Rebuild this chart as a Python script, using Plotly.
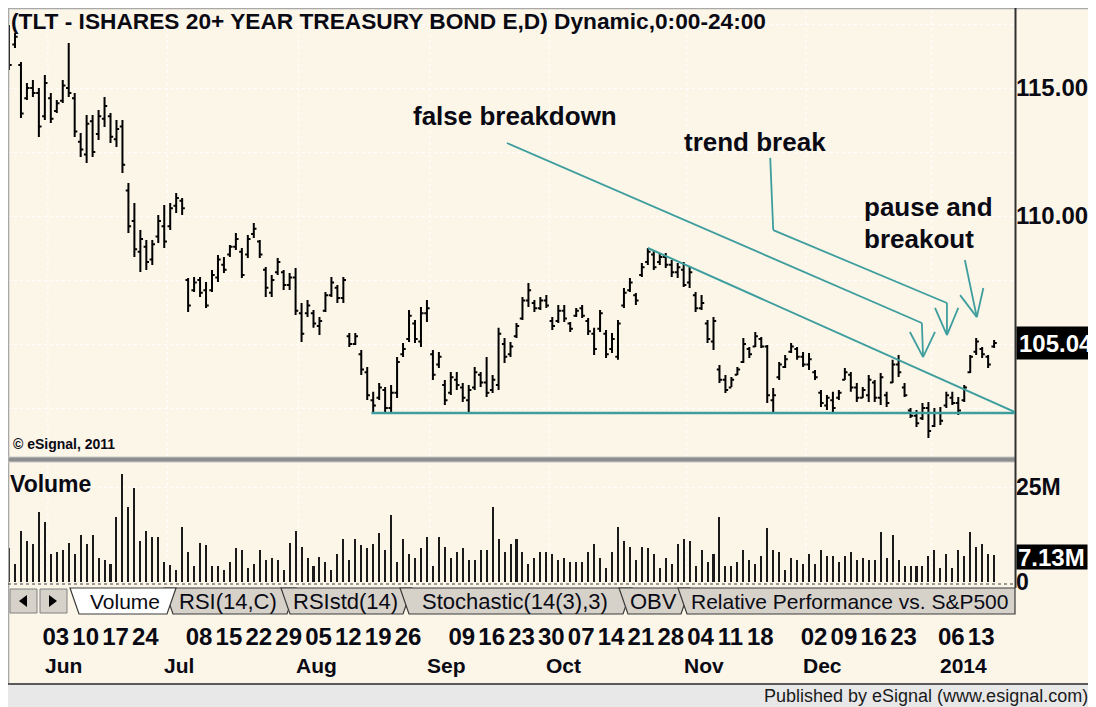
import plotly.graph_objects as go
import pandas as pd

# ---------------- data ----------------
HOLIDAYS = ["2013-05-27", "2013-07-04", "2013-09-02", "2013-11-28", "2013-12-25", "2014-01-01"]
dates = [d.strftime("%Y-%m-%d") for d in
         pd.bdate_range("2013-05-22", "2014-01-16", freq="C", holidays=HOLIDAYS)]

open_ = [117.3, 116.7, 115.9, 114.6, 115.0, 114.8, 113.9, 114.6, 114.1, 114.5,
         115.0, 114.6, 112.9, 112.4, 113.7, 113.2, 113.8, 113.9, 113.0, 113.5,
         111.0, 109.8, 108.6, 108.8, 108.3, 109.2, 109.6, 109.6, 110.4, 110.6,
         107.5, 107.1, 107.5, 107.1, 107.1, 107.6, 108.1, 108.5, 108.8, 108.6,
         108.5, 109.3, 109.0, 107.9, 107.0, 107.8, 107.8, 107.3, 107.6, 106.2,
         106.2, 106.2, 105.7, 106.3, 106.9, 107.2, 106.8, 105.3, 105.0, 104.6,
         103.9, 102.8, 102.9, 103.2, 102.5, 103.1, 104.6, 105.2, 105.8, 105.1,
         106.2, 104.6, 104.2, 103.4, 103.1, 103.6, 103.3, 102.8, 103.3, 103.8,
         103.5, 103.2, 103.4, 105.0, 104.6, 105.3, 106.0, 106.7, 106.6, 106.4,
         106.7, 105.9, 105.9, 106.3, 105.8, 106.1, 106.4, 105.9, 105.4, 105.6,
         105.4, 104.8, 104.5, 106.5, 107.1, 106.9, 107.7, 108.2, 108.5, 108.2,
         108.4, 108.1, 107.8, 107.9, 107.4, 106.9, 106.4, 105.8, 105.1, 104.0,
         103.6, 103.3, 103.8, 104.3, 104.8, 104.9, 105.2, 104.9, 102.8, 103.7,
         104.1, 104.7, 104.8, 104.5, 104.2, 103.9, 103.1, 102.6, 102.8, 102.9,
         103.6, 103.8, 103.3, 102.9, 103.0, 103.5, 102.9, 103.0, 103.5, 104.2,
         103.3, 102.4, 102.2, 102.1, 102.5, 101.8, 102.3, 102.6, 102.9, 102.7,
         102.8, 103.9, 104.7, 104.8, 104.5, 104.9]
high = [117.46, 117.15, 116.02, 115.20, 115.31, 115.00, 115.51, 114.80, 114.53, 115.31,
        116.76, 114.80, 113.24, 113.95, 113.95, 114.14, 114.65, 114.02, 113.75, 113.75,
        111.29, 110.51, 109.45, 109.06, 109.06, 110.04, 110.43, 110.51, 110.90, 110.70,
        107.58, 107.62, 107.62, 107.42, 107.89, 108.48, 108.40, 108.87, 109.34, 108.75,
        109.26, 109.73, 109.06, 108.01, 107.70, 108.36, 107.89, 107.77, 107.97, 106.60,
        106.72, 106.33, 106.05, 107.03, 107.62, 107.30, 107.62, 105.43, 105.43, 104.77,
        104.10, 103.13, 103.48, 103.32, 103.40, 104.49, 105.04, 106.33, 105.94, 106.45,
        106.72, 104.77, 104.69, 103.59, 103.91, 103.91, 103.48, 103.40, 104.10, 103.91,
        104.49, 103.79, 105.63, 105.23, 105.08, 105.82, 106.84, 107.38, 106.72, 106.84,
        106.91, 106.05, 106.52, 106.52, 105.86, 106.41, 106.52, 106.02, 105.63, 106.33,
        105.55, 105.43, 105.94, 107.19, 107.58, 106.99, 108.16, 108.75, 108.67, 108.55,
        108.55, 108.28, 108.16, 108.20, 108.01, 107.03, 106.91, 105.94, 106.05, 104.18,
        103.79, 103.71, 104.10, 105.23, 104.88, 105.47, 105.27, 104.96, 103.28, 104.30,
        104.57, 105.04, 104.88, 104.69, 104.65, 103.98, 103.20, 103.01, 103.13, 103.20,
        104.06, 103.91, 103.48, 103.32, 103.79, 103.59, 103.87, 103.13, 104.38, 104.57,
        103.48, 102.50, 102.42, 102.70, 102.73, 102.50, 102.54, 103.13, 103.13, 102.93,
        103.40, 104.57, 105.23, 104.88, 104.57, 105.16]
low = [115.70, 116.56, 113.83, 114.53, 114.65, 113.09, 113.75, 113.63, 114.02, 114.41,
       114.65, 113.09, 112.30, 112.07, 112.30, 112.97, 113.48, 112.85, 112.70, 111.68,
       109.34, 108.40, 107.81, 107.89, 108.09, 108.95, 108.75, 109.45, 110.12, 110.04,
       106.25, 107.03, 106.84, 106.41, 107.03, 107.42, 107.77, 108.40, 108.67, 107.58,
       108.36, 109.14, 108.36, 106.84, 106.84, 107.70, 107.11, 107.11, 106.13, 105.08,
       106.05, 105.63, 105.35, 106.25, 106.84, 106.60, 106.60, 104.88, 104.96, 103.79,
       102.81, 102.30, 102.81, 102.30, 102.30, 102.89, 104.49, 105.08, 105.04, 104.88,
       105.86, 103.59, 104.06, 102.62, 103.01, 103.20, 102.73, 102.30, 103.20, 103.32,
       102.93, 103.09, 103.20, 104.26, 104.49, 105.23, 105.94, 106.45, 106.25, 106.33,
       106.41, 105.55, 105.82, 105.86, 105.47, 106.05, 106.02, 105.35, 104.57, 105.47,
       104.45, 104.65, 104.38, 106.41, 107.03, 106.52, 107.62, 108.09, 107.89, 108.09,
       107.97, 107.62, 107.58, 107.23, 107.19, 106.25, 106.33, 105.04, 104.77, 103.48,
       103.09, 103.32, 103.79, 104.26, 104.45, 104.88, 104.84, 102.70, 102.30, 103.59,
       104.06, 104.65, 104.38, 104.10, 103.98, 103.59, 102.54, 102.42, 102.34, 102.81,
       103.59, 103.13, 102.73, 102.89, 102.73, 102.73, 102.62, 102.54, 103.48, 103.71,
       102.93, 102.11, 101.76, 102.03, 101.33, 101.76, 101.84, 102.50, 102.62, 102.23,
       102.73, 103.87, 104.57, 104.45, 104.06, 104.84]
close = [115.9, 117.0, 114.0, 115.0, 114.8, 113.5, 115.2, 113.8, 114.4, 115.1,
         114.8, 113.3, 112.6, 113.6, 112.5, 113.9, 114.3, 113.1, 113.4, 112.0,
         109.6, 108.7, 109.1, 108.2, 108.9, 109.8, 109.0, 110.3, 110.7, 110.3,
         106.5, 107.4, 107.0, 106.5, 107.7, 108.3, 107.9, 108.8, 109.1, 107.7,
         109.1, 109.5, 108.5, 107.2, 107.5, 108.2, 107.3, 107.6, 106.3, 105.4,
         106.5, 105.8, 105.9, 106.9, 107.4, 106.8, 107.5, 105.0, 105.3, 104.0,
         103.0, 102.6, 103.3, 102.5, 103.1, 104.3, 104.8, 106.1, 105.2, 106.2,
         106.4, 103.8, 104.5, 102.8, 103.7, 103.4, 102.9, 103.2, 103.9, 103.5,
         103.1, 103.6, 105.4, 104.5, 104.9, 105.7, 106.7, 107.1, 106.4, 106.7,
         106.5, 105.7, 106.3, 106.0, 105.6, 106.3, 106.1, 105.5, 104.8, 106.2,
         104.6, 105.2, 105.8, 107.0, 107.4, 106.7, 108.0, 108.6, 108.0, 108.4,
         108.1, 107.8, 108.0, 107.3, 107.8, 106.4, 106.6, 105.2, 105.9, 103.6,
         103.2, 103.6, 104.0, 105.0, 104.6, 105.3, 104.9, 103.0, 103.0, 104.2,
         104.4, 104.9, 104.5, 104.2, 104.4, 103.7, 102.7, 102.9, 102.5, 103.1,
         103.9, 103.3, 102.9, 103.2, 103.6, 102.9, 103.7, 102.7, 104.2, 103.9,
         103.0, 102.2, 101.9, 102.5, 101.6, 102.3, 102.0, 103.0, 102.7, 102.4,
         103.3, 104.5, 105.1, 104.6, 104.2, 105.04]
volume_m = [8.9, 4.7, 13.5, 10.9, 9.9, 18.3, 15.7, 7.3, 7.9, 8.4,
            10.3, 7.3, 12.5, 9.9, 12.5, 6.3, 5.8, 4.7, 17.1, 28.4,
            19.7, 24.8, 10.9, 13.5, 11.9, 11.9, 5.2, 4.6, 3.2, 14.5,
            7.8, 4.1, 10.3, 9.7, 4.1, 4.1, 3.2, 5.2, 8.9, 8.4,
            3.7, 4.7, 8.4, 5.8, 6.3, 5.8, 3.2, 10.3, 13.5, 9.2,
            6.3, 4.1, 6.7, 5.2, 3.2, 7.3, 11.4, 5.8, 11.4, 9.7,
            8.9, 9.9, 12.9, 8.4, 17.7, 5.2, 11.4, 7.3, 6.3, 8.9,
            11.9, 4.1, 11.9, 9.3, 6.3, 7.8, 8.9, 5.8, 5.8, 8.4,
            8.4, 19.7, 11.4, 7.8, 9.9, 11.4, 7.8, 4.7, 6.3, 7.8,
            7.8, 7.3, 5.8, 6.3, 5.2, 5.2, 5.2, 7.8, 9.9, 6.3,
            3.7, 7.8, 14.5, 10.9, 9.3, 5.8, 9.3, 8.9, 7.3, 3.7,
            6.3, 4.7, 9.9, 11.4, 10.9, 4.1, 8.4, 5.2, 7.3, 17.1,
            4.1, 4.1, 5.2, 8.4, 5.8, 4.7, 6.9, 14.1, 8.4, 7.8,
            3.2, 6.3, 5.8, 4.7, 7.3, 4.7, 8.4, 6.9, 6.9, 5.2,
            6.9, 7.8, 5.8, 6.3, 5.8, 5.8, 13.1, 6.3, 12.3, 5.8,
            4.1, 4.1, 4.1, 4.1, 6.9, 8.4, 3.7, 7.3, 3.7, 8.4,
            6.9, 13.1, 9.3, 9.9, 7.3, 7.13]

DAY_TICKS = ["2013-06-03", "2013-06-10", "2013-06-17", "2013-06-24",
             "2013-07-08", "2013-07-15", "2013-07-22", "2013-07-29",
             "2013-08-05", "2013-08-12", "2013-08-19", "2013-08-26",
             "2013-09-09", "2013-09-16", "2013-09-23", "2013-09-30",
             "2013-10-07", "2013-10-14", "2013-10-21", "2013-10-28",
             "2013-11-04", "2013-11-11", "2013-11-18",
             "2013-12-02", "2013-12-09", "2013-12-16", "2013-12-23",
             "2014-01-06", "2014-01-13"]
DAY_LABELS = [d[-2:] for d in DAY_TICKS]
MONTH_NAMES = {"2013-06": "Jun", "2013-07": "Jul", "2013-08": "Aug", "2013-09": "Sep",
               "2013-10": "Oct", "2013-11": "Nov", "2013-12": "Dec", "2014-01": "2014"}
PRICE_TICKS = [100.0, 102.5, 105.0, 107.5, 110.0, 112.5, 115.0, 117.5]
PRICE_LABELS = ["", "", "", "", "110.00", "", "115.00", ""]
VOL_TICKS = [0, 25]
VOL_LABELS = ["0", "25M"]
LAST_PRICE = 105.04
LAST_VOLUME = 7.13
SUPPORT_START, SUPPORT_PRICE = "2013-08-19", 102.30
TREND_START, TREND_START_PRICE, TREND_END_PRICE = "2013-10-23", 108.75, 102.34

TITLE = "(TLT - ISHARES 20+ YEAR TREASURY BOND E,D) Dynamic,0:00-24:00"
TABS = ["RSI(14,C)", "RSIstd(14)", "Stochastic(14(3),3)", "OBV", "Relative Performance vs. S&P500"]

# ---------------- layout helpers (page pixels; the page body adds an 8px margin) ----------------
OFF = 8
W, H = 1096 - OFF, 707 - OFF
def X(px): return (px - OFF) / W
def Y(py): return 1 - (py - OFF) / H

CREAM = "#FCF6E9"
TEAL = "#3E9E9E"
INK = "#0A0A14"
FONT = "Liberation Sans, Arial, sans-serif"
X_RANGE = [-0.17, 168.5]
P_RANGE = [100.586, 118.125]
V_RANGE = [0, 31.32]
pos = {d: i for i, d in enumerate(dates)}

fig = go.Figure()
fig.add_trace(go.Ohlc(
    x=dates, open=open_, high=high, low=low, close=close,
    increasing=dict(line=dict(color="#000000", width=2)),
    decreasing=dict(line=dict(color="#000000", width=2)),
    tickwidth=0.45, xaxis="x", yaxis="y", showlegend=False, hoverinfo="skip"))
fig.add_trace(go.Bar(
    x=dates, y=volume_m, width=0.34, marker=dict(color="#1A1A1A", line=dict(width=0)),
    xaxis="x2", yaxis="y2", showlegend=False, hoverinfo="skip"))

shapes = []
# frame lines (left / top)
shapes.append(dict(type="line", xref="paper", yref="paper", x0=0.0005, x1=0.0005, y0=Y(684), y1=1,
                   line=dict(color="#A8A8A8", width=1.5), layer="above"))
shapes.append(dict(type="line", xref="paper", yref="paper", x0=0, x1=1, y0=0.9993, y1=0.9993,
                   line=dict(color="#A8A8A8", width=1.5), layer="above"))
# footer
shapes.append(dict(type="rect", xref="paper", yref="paper", x0=0, x1=1, y0=0, y1=Y(685),
                   fillcolor="#E8E8E8", line=dict(width=0), layer="above"))
shapes.append(dict(type="line", xref="paper", yref="paper", x0=0, x1=1, y0=Y(684), y1=Y(684),
                   line=dict(color="#5A5A5A", width=2), layer="above"))
# panel splitter
shapes.append(dict(type="rect", xref="paper", yref="paper", x0=X(8), x1=X(1015), y0=Y(462), y1=Y(457),
                   fillcolor="#8E8E8E", line=dict(color="#C8C8C8", width=1), layer="above"))
# right axis line
shapes.append(dict(type="line", xref="paper", yref="paper", x0=X(1015.5), x1=X(1015.5), y0=Y(588), y1=Y(8),
                   line=dict(color="#303030", width=2), layer="above"))
# dotted line under volume
shapes.append(dict(type="line", xref="paper", yref="paper", x0=X(8), x1=X(1015), y0=Y(584), y1=Y(584),
                   line=dict(color="#404040", width=1, dash="dot"), layer="above"))

# month gridlines
month_starts = []
for i, d in enumerate(dates):
    if i > 0 and d[:7] != dates[i - 1][:7]:
        month_starts.append(i)
for i in month_starts:
    for xr, yr in (("x", "y domain"), ("x2", "y2 domain")):
        shapes.append(dict(type="line", xref=xr, yref=yr, x0=i - 0.5, x1=i - 0.5, y0=0, y1=1,
                           line=dict(color="#FFFFFF", width=1, dash="dot"), layer="below"))

# support & trend lines
shapes.append(dict(type="line", xref="x", yref="y", x0=pos[SUPPORT_START] - 0.3, x1=X_RANGE[1],
                   y0=SUPPORT_PRICE, y1=SUPPORT_PRICE, line=dict(color=TEAL, width=2.5)))
shapes.append(dict(type="line", xref="x", yref="y", x0=pos[TREND_START], x1=X_RANGE[1],
                   y0=TREND_START_PRICE, y1=TREND_END_PRICE, line=dict(color=TEAL, width=2)))

# callout arrows (bar index, price)
callouts = [
    [(83.4, 112.85), (152.9, 105.82), (153.1, 104.49)],
    [(150.9, 105.47), (153.1, 104.49), (155.1, 105.47)],
    [(127.5, 112.27), (128.0, 109.45), (157.1, 106.60), (157.1, 105.35)],
    [(155.1, 106.41), (157.1, 105.35), (159.0, 106.41)],
    [(160.1, 108.28), (162.1, 106.05)],
    [(159.3, 106.91), (162.1, 106.05), (163.2, 107.19)],
]
for poly in callouts:
    for (xa, ya), (xb, yb) in zip(poly[:-1], poly[1:]):
        shapes.append(dict(type="line", xref="x", yref="y", x0=xa, x1=xb, y0=ya, y1=yb,
                           line=dict(color=TEAL, width=1.8)))

# tab bar
def path(pts):
    return "M " + " L ".join(f"{X(a):.5f},{Y(b):.5f}" for a, b in pts) + " Z"

TOP, BOT = 588, 614
tab_geom = [(164, 296), (281, 412), (400, 632), (619, 690), (678, 1015)]
annotations = []
for (lx, rx), label in zip(tab_geom, TABS):
    if rx >= 1015:
        pts = [(lx, TOP), (lx + 9, BOT), (1015, BOT), (1015, TOP)]
    else:
        pts = [(lx, TOP), (lx + 9, BOT), (rx - 9, BOT), (rx, TOP)]
    shapes.append(dict(type="path", xref="paper", yref="paper", path=path(pts),
                       fillcolor="#D6D2CA", line=dict(color="#3A3A3A", width=1.2), layer="above"))
shapes.append(dict(type="path", xref="paper", yref="paper",
                   path=path([(70, TOP), (79, BOT), (167, BOT), (176, TOP)]),
                   fillcolor="#FFFFFF", line=dict(color="#3A3A3A", width=1.2), layer="above"))
for bx in (10, 40):
    shapes.append(dict(type="rect", xref="paper", yref="paper", x0=X(bx), x1=X(bx + 27), y0=Y(613), y1=Y(589),
                       fillcolor="#D6D2CA", line=dict(color="#808080", width=1), layer="above"))
shapes.append(dict(type="path", xref="paper", yref="paper", path=path([(19, 601), (27, 595), (27, 607)]),
                   fillcolor="#000000", line=dict(width=0), layer="above"))
shapes.append(dict(type="path", xref="paper", yref="paper", path=path([(57, 601), (49, 595), (49, 607)]),
                   fillcolor="#000000", line=dict(width=0), layer="above"))

tab_text = [("Volume", 125, 21), ("RSI(14,C)", 228, 22), ("RSIstd(14)", 345, 22),
            ("Stochastic(14(3),3)", 515, 22), ("OBV", 653, 22)]
for t, cx, fs in tab_text:
    annotations.append(dict(text=t, xref="paper", yref="paper", x=X(cx), y=Y(601), xanchor="center",
                            yanchor="middle", showarrow=False, font=dict(family=FONT, size=fs, color=INK)))
annotations.append(dict(text=TABS[-1], xref="paper", yref="paper", x=X(689), y=Y(601), xanchor="left",
                        yanchor="middle", showarrow=False, font=dict(family=FONT, size=21, color=INK)))

# month labels: first trading day of the month (January: first labelled week)
for i in [0] + month_starts:
    m = dates[i][:7]
    if m not in MONTH_NAMES:
        continue
    xi = i
    if m == "2014-01":
        xi = pos[[d for d in DAY_TICKS if d.startswith(m)][0]]
    annotations.append(dict(text=MONTH_NAMES[m], xref="x2", yref="paper", x=xi, y=Y(665),
                            xanchor="left", yanchor="middle", xshift=-8, showarrow=False,
                            font=dict(family=FONT, size=21, color=INK, weight="bold")))

annotations += [
    dict(text=TITLE, xref="paper", yref="paper", x=X(9), y=Y(21), xanchor="left", yanchor="middle",
         showarrow=False, font=dict(family=FONT, size=22.7, color=INK, weight="bold")),
    dict(text="© eSignal, 2011", xref="paper", yref="paper", x=X(11), y=Y(444), xanchor="left",
         yanchor="middle", showarrow=False, font=dict(family=FONT, size=14, color=INK, weight="bold")),
    dict(text="Volume", xref="paper", yref="paper", x=X(8), y=Y(484), xanchor="left", yanchor="middle",
         showarrow=False, font=dict(family=FONT, size=23, color=INK, weight="bold")),
    dict(text="false breakdown", xref="paper", yref="paper", x=X(515), y=Y(116), xanchor="center",
         yanchor="middle", showarrow=False, font=dict(family=FONT, size=26, color=INK, weight="bold")),
    dict(text="trend break", xref="paper", yref="paper", x=X(755), y=Y(142), xanchor="center",
         yanchor="middle", showarrow=False, font=dict(family=FONT, size=26, color=INK, weight="bold")),
    dict(text="pause and", xref="paper", yref="paper", x=X(862), y=Y(207), xanchor="left",
         yanchor="middle", showarrow=False, font=dict(family=FONT, size=26, color=INK, weight="bold")),
    dict(text="breakout", xref="paper", yref="paper", x=X(862), y=Y(239), xanchor="left",
         yanchor="middle", showarrow=False, font=dict(family=FONT, size=26, color=INK, weight="bold")),
    dict(text=f"{LAST_PRICE:.2f}", xref="paper", yref="y", x=X(1016), y=LAST_PRICE, xanchor="left",
         yanchor="middle", showarrow=False, bgcolor="#000000", width=74, height=28, align="left",
         borderpad=2, font=dict(family=FONT, size=24, color="#FFFFFF", weight="bold")),
    dict(text=f"{LAST_VOLUME:.2f}M", xref="paper", yref="y2", x=X(1016), y=LAST_VOLUME, xanchor="left",
         yanchor="middle", yshift=-2, showarrow=False, bgcolor="#000000", width=68, height=22, align="left",
         borderpad=1, font=dict(family=FONT, size=24, color="#FFFFFF", weight="bold")),
    dict(text="Published by eSignal (www.esignal.com)", xref="paper", yref="paper", x=X(1090), y=Y(696),
         xanchor="right", yanchor="middle", showarrow=False, font=dict(family=FONT, size=18, color="#1A1A1A")),
]

fig.update_layout(
    template="none",
    width=W, height=H, autosize=False,
    margin=dict(l=0, r=0, t=0, b=0),
    paper_bgcolor=CREAM, plot_bgcolor="rgba(0,0,0,0)",
    font=dict(family=FONT, color=INK),
    showlegend=False, bargap=0,
    xaxis=dict(domain=[X(8), X(1015)], type="category", range=X_RANGE, anchor="y",
               showticklabels=False, showgrid=False, zeroline=False, showline=False, ticks="",
               rangeslider=dict(visible=False), fixedrange=True),
    xaxis2=dict(domain=[X(8), X(1015)], type="category", range=X_RANGE, anchor="y2", matches="x",
                tickmode="array", tickvals=DAY_TICKS, ticktext=DAY_LABELS, tickangle=0,
                ticks="", ticklabelstandoff=38, ticklabelshift=5,
                tickfont=dict(family=FONT, size=24, color=INK, weight="bold"),
                showgrid=False, zeroline=False, showline=False, automargin=False, fixedrange=True),
    yaxis=dict(domain=[Y(457), Y(8)], range=P_RANGE, side="right", anchor="x",
               tickmode="array", tickvals=PRICE_TICKS, ticktext=PRICE_LABELS, ticks="",
               tickfont=dict(family=FONT, size=24, color=INK, weight="bold"),
               showgrid=True, gridcolor="#FFFFFF", griddash="dot", gridwidth=1,
               zeroline=False, showline=False, automargin=False, fixedrange=True),
    yaxis2=dict(domain=[Y(582), Y(463)], range=V_RANGE, side="right", anchor="x2",
                tickmode="array", tickvals=VOL_TICKS, ticktext=VOL_LABELS, ticks="",
                tickfont=dict(family=FONT, size=23, color=INK, weight="bold"),
                showgrid=True, gridcolor="#FFFFFF", griddash="dot", gridwidth=1,
                zeroline=False, showline=False, automargin=False, fixedrange=True),
    shapes=shapes,
    annotations=annotations,
)

fig.write_html("out.html")
